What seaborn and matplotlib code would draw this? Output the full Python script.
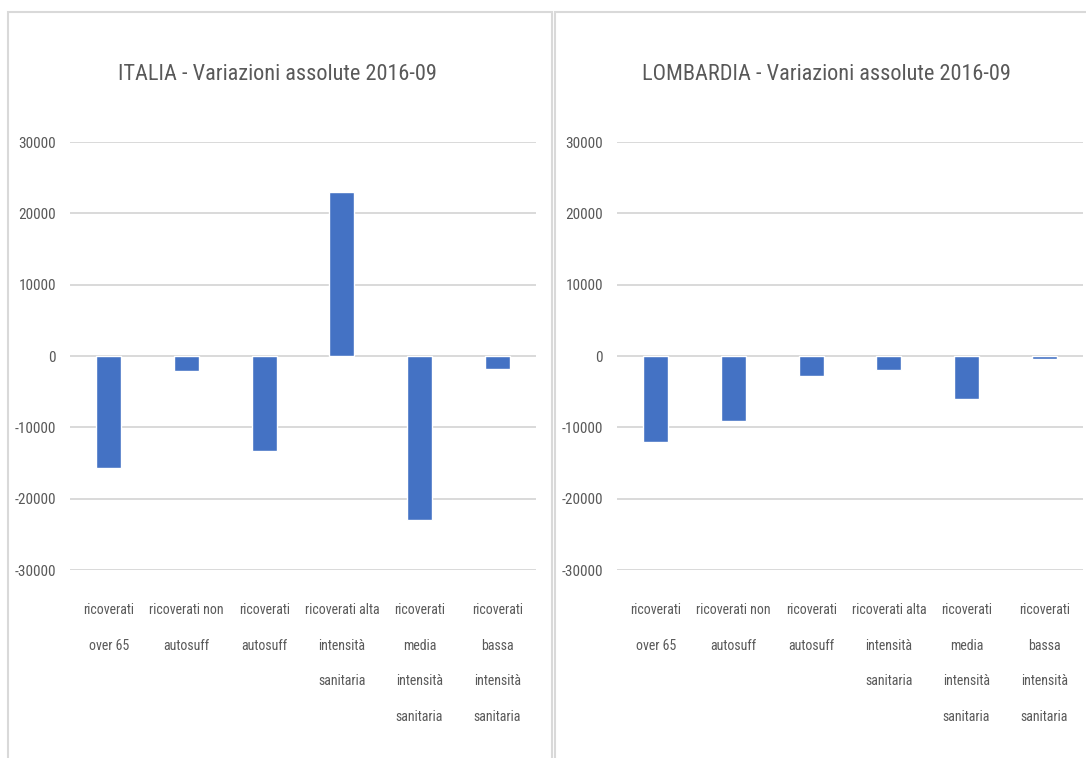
import matplotlib
matplotlib.use("Agg")
import matplotlib.pyplot as plt
import matplotlib.font_manager as fm
from matplotlib.patches import Rectangle
import seaborn as sns
import pandas as pd

# ---------------- data ----------------
categories = ["over 65", "non autosuff", "autosuff", "alta intensita", "media intensita", "bassa intensita"]
tick_labels = [
    "ricoverati\nover 65",
    "ricoverati non\nautosuff",
    "ricoverati\nautosuff",
    "ricoverati alta\nintensità\nsanitaria",
    "ricoverati\nmedia\nintensità\nsanitaria",
    "ricoverati\nbassa\nintensità\nsanitaria",
]
italia_values = [-15700, -2100, -13300, 23000, -23000, -1800]
lombardia_values = [-12100, -9100, -2800, -2000, -6000, -400]
titles = ["ITALIA - Variazioni assolute 2016-09", "LOMBARDIA - Variazioni assolute 2016-09"]
y_ticks = [-30000, -20000, -10000, 0, 10000, 20000, 30000]

# ---------------- fonts ----------------
sns.set_theme(style="white")
pref = ["Roboto Condensed", "Liberation Sans Narrow", "Open Sans Condensed", "Noto Sans Condensed",
        "Noto Sans", "DejaVu Sans", "Roboto", "Open Sans", "Liberation Sans"]
found = []
for f in fm.fontManager.ttflist:
    st = f.stretch
    narrow = ("Narrow" in f.name or "Condensed" in f.name or
              (isinstance(st, str) and "condensed" in st and "semi" not in st) or
              (isinstance(st, int) and st < 400))
    if narrow and f.style == "normal" and f.weight in (400, "normal", "regular"):
        found.append(f)
chosen = None
for p in pref:
    for f in found:
        if f.name == p:
            chosen = f
            break
    if chosen:
        break
if chosen is None and found:
    chosen = found[0]
if chosen is not None:
    fpath = chosen.fname
    def FP(size):
        return fm.FontProperties(fname=fpath, size=size)
else:
    def FP(size):
        return fm.FontProperties(family="Liberation Sans", size=size * 0.82)

text_col = "#595959"
bar_col = "#4472C4"
grid_col = "#d9d9d9"

W, H = 1086, 758
fig = plt.figure(figsize=(W / 100, H / 100), dpi=100)
fig.patch.set_facecolor("white")

# panel frames
fig.add_artist(Rectangle((8 / W, -0.05), (552 - 8) / W, 1.05 - 12 / H,
                         transform=fig.transFigure, fill=False, ec=grid_col, lw=1.5))
fig.add_artist(Rectangle((555 / W, -0.05), 0.5, 1.05 - 12 / H,
                         transform=fig.transFigure, fill=False, ec=grid_col, lw=1.5))

axes_left = [70, 617]
title_x = [277, 826]
series = [italia_values, lombardia_values]

for i in range(2):
    ax = fig.add_axes([axes_left[i] / W, 1 - 570 / H, 466 / W, 428 / H])
    df = pd.DataFrame({"cat": categories, "val": series[i]})
    sns.barplot(data=df, x="cat", y="val", order=categories, color=bar_col,
                saturation=1, width=0.32, ax=ax)
    ax.set_xlim(-0.5, 5.5)
    ax.set_ylim(-30000, 30000)
    ax.set_yticks(y_ticks)
    ax.set_yticklabels([str(v) for v in y_ticks])
    ax.set_xticks(range(len(categories)))
    ax.set_xticklabels(tick_labels)
    ax.set_xlabel("")
    ax.set_ylabel("")
    ax.set_axisbelow(True)
    ax.grid(axis="y", color=grid_col, lw=1.4)
    ax.grid(axis="x", visible=False)
    for s in ax.spines.values():
        s.set_visible(False)
    ax.tick_params(axis="both", length=0)
    ax.tick_params(axis="y", pad=10)
    ax.tick_params(axis="x", pad=24)
    for lab in ax.get_yticklabels():
        lab.set_fontproperties(FP(11))
        lab.set_color(text_col)
    for lab in ax.get_xticklabels():
        lab.set_fontproperties(FP(10))
        lab.set_color(text_col)
        lab.set_multialignment("center")
        lab.set_linespacing(2.95)
        lab.set_verticalalignment("top")
    ax.patch.set_alpha(0)
    fig.text(title_x[i] / W, 1 - 75 / H, titles[i], ha="center", va="center",
             fontproperties=FP(16), color=text_col)

fig.savefig("out.png", dpi=100, facecolor="white")
